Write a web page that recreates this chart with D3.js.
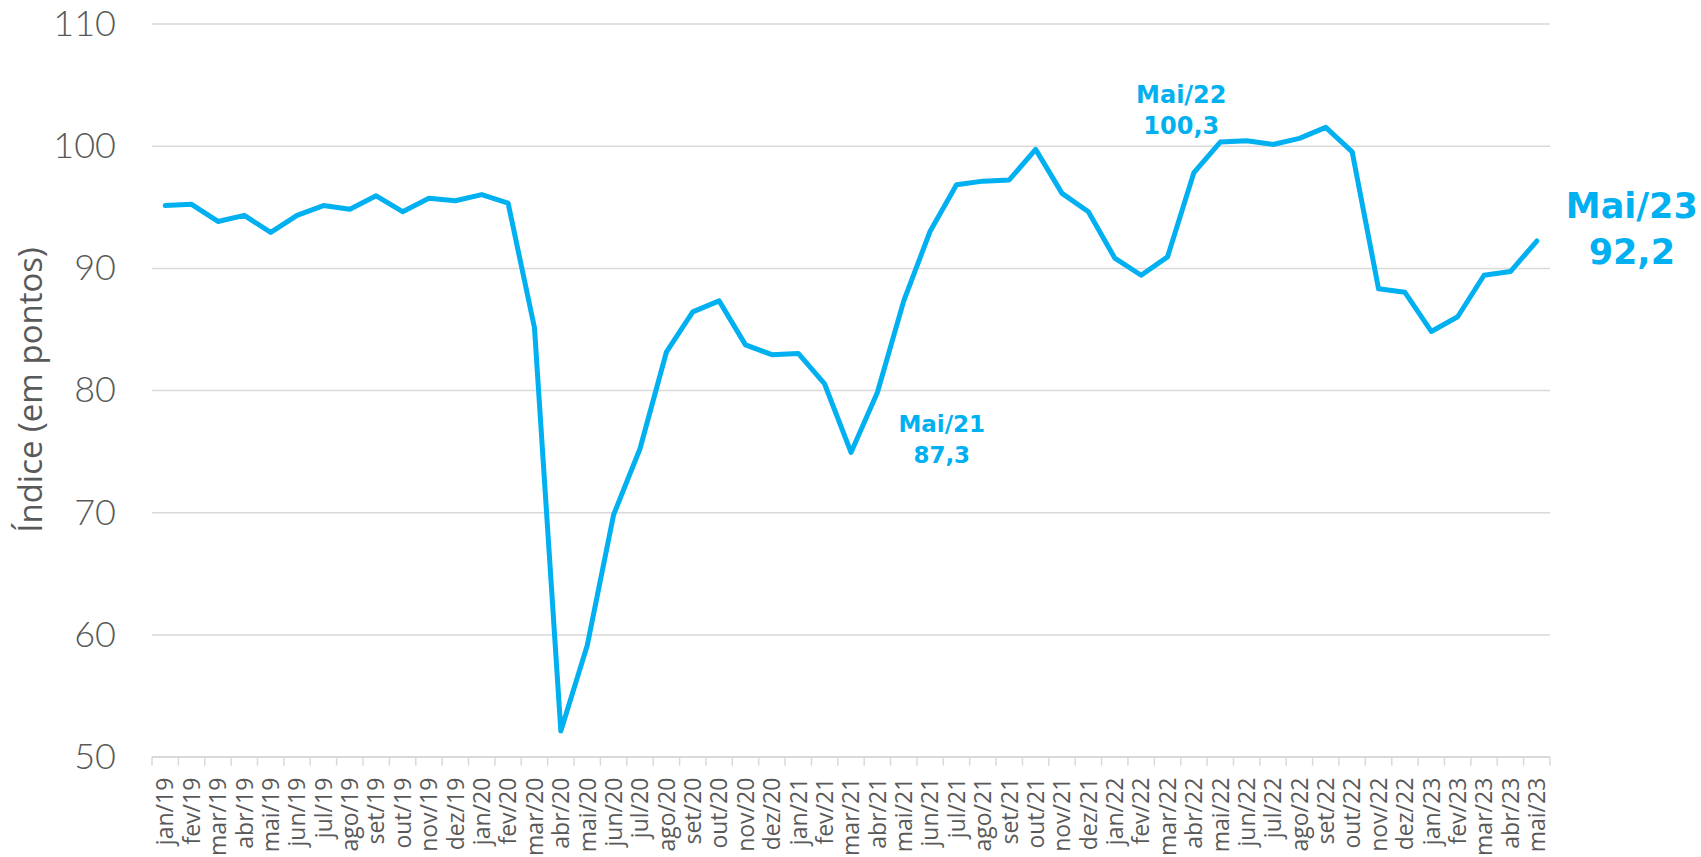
<!DOCTYPE html>
<html>
<head>
<meta charset="utf-8">
<script src="https://cdn.jsdelivr.net/npm/d3@7"></script>
<style>
  body { margin: 0; background: #fff; }
  svg { display: block; }
</style>
</head>
<body>
<script>
// meses (jan/19 .. mai/23)
var months = ['jan/19','fev/19','mar/19','abr/19','mai/19','jun/19','jul/19','ago/19','set/19','out/19','nov/19','dez/19',
              'jan/20','fev/20','mar/20','abr/20','mai/20','jun/20','jul/20','ago/20','set/20','out/20','nov/20','dez/20',
              'jan/21','fev/21','mar/21','abr/21','mai/21','jun/21','jul/21','ago/21','set/21','out/21','nov/21','dez/21',
              'jan/22','fev/22','mar/22','abr/22','mai/22','jun/22','jul/22','ago/22','set/22','out/22','nov/22','dez/22',
              'jan/23','fev/23','mar/23','abr/23','mai/23'];
var values = [95.1, 95.2, 93.8, 94.3, 92.9, 94.3, 95.1, 94.8, 95.9, 94.6, 95.7, 95.5,
              96.0, 95.3, 85.1, 52.1, 59.1, 69.8, 75.2, 83.1, 86.4, 87.3, 83.7, 82.9,
              83.0, 80.5, 74.9, 79.8, 87.3, 93.0, 96.8, 97.1, 97.2, 99.7, 96.1, 94.6,
              90.8, 89.4, 90.9, 97.8, 100.3, 100.4, 100.1, 100.6, 101.5, 99.5, 88.3, 88.0,
              84.8, 86.0, 89.4, 89.7, 92.2];
var yTicks = [50, 60, 70, 80, 90, 100, 110];
var notes = [
  {month: 'mai/21', title: 'Mai/21', label: '87,3'},
  {month: 'mai/22', title: 'Mai/22', label: '100,3'},
  {month: 'mai/23', title: 'Mai/23', label: '92,2'}
];

var _w = 1701, _h = 857;
var blue = '#00b0f0', grid = '#d9d9d9', gray = '#595959';

var svg = d3.select('body').append('svg')
    .attr('width', _w)
    .attr('height', _h);

var x = d3.scaleBand().domain(months).range([152, 1550]);
var y = d3.scaleLinear().domain([50, 110]).range([756.7, 23.5]);

// eixo y + grade
var yAxis = svg.append('g')
    .attr('transform', 'translate(152,0)')
    .call(d3.axisLeft(y).tickValues(yTicks).tickSize(-(1550 - 152)).tickPadding(36));
yAxis.select('.domain').remove();
yAxis.selectAll('.tick line').attr('stroke', grid).attr('stroke-width', 1.5);
yAxis.selectAll('.tick text')
    .attr('fill', gray)
    .style('font-family', 'Lato, sans-serif')
    .style('font-weight', 300)
    .style('font-size', '36px')
    .attr('dy', '0.33em');

// titulo do eixo y
svg.append('text')
    .attr('transform', 'translate(30,390) rotate(-90)')
    .attr('text-anchor', 'middle')
    .attr('dy', '0.35em')
    .attr('fill', gray)
    .style('font-family', '"Open Sans", sans-serif')
    .style('font-size', '33px')
    .text('Índice (em pontos)');

// eixo x
var xAxis = svg.append('g')
    .attr('transform', 'translate(0,' + y(50) + ')')
    .call(d3.axisBottom(x).tickSize(0).tickPadding(0));
xAxis.select('.domain').remove();
xAxis.selectAll('.tick text')
    .attr('transform', 'translate(0,21) rotate(-90)')
    .attr('text-anchor', 'end')
    .attr('x', 0)
    .attr('y', 0)
    .attr('dy', '0.36em')
    .attr('fill', gray)
    .style('font-family', '"Open Sans", sans-serif')
    .style('font-size', '23px');

svg.append('line')
    .attr('x1', 152).attr('x2', 1550)
    .attr('y1', y(50)).attr('y2', y(50))
    .attr('stroke', grid).attr('stroke-width', 1.5);

var bounds = months.map(function(m) { return x(m); }).concat([x.range()[1]]);
svg.append('g').selectAll('line')
    .data(bounds)
    .enter().append('line')
    .attr('x1', function(d) { return d; })
    .attr('x2', function(d) { return d; })
    .attr('y1', y(50))
    .attr('y2', y(50) + 9)
    .attr('stroke', grid)
    .attr('stroke-width', 1.5);

// linha
var line = d3.line()
    .x(function(d, i) { return x(months[i]) + x.bandwidth() / 2; })
    .y(function(d) { return y(d); });

svg.append('path')
    .datum(values)
    .attr('d', line)
    .attr('fill', 'none')
    .attr('stroke', blue)
    .attr('stroke-width', 5)
    .attr('stroke-linejoin', 'round')
    .attr('stroke-linecap', 'round');

// anotacoes
var noteStyle = {
  'mai/21': {dx: 38, dy1: 131, dy2: 162, size: 23},
  'mai/22': {dx: -39, dy1: -39, dy2: -8, size: 24},
  'mai/23': {dx: 95, dy1: -23, dy2: 23, size: 35}
};
notes.forEach(function(n) {
  var i = months.indexOf(n.month);
  var s = noteStyle[n.month];
  var cx = x(n.month) + x.bandwidth() / 2 + s.dx;
  var cy = y(values[i]);
  var g = svg.append('g')
      .attr('fill', blue)
      .attr('text-anchor', 'middle')
      .style('font-family', '"DejaVu Sans", sans-serif')
      .style('font-weight', 'bold')
      .style('font-size', s.size + 'px');
  g.append('text').attr('x', cx).attr('y', cy + s.dy1).text(n.title);
  g.append('text').attr('x', cx).attr('y', cy + s.dy2).text(n.label);
});
</script>
</body>
</html>
